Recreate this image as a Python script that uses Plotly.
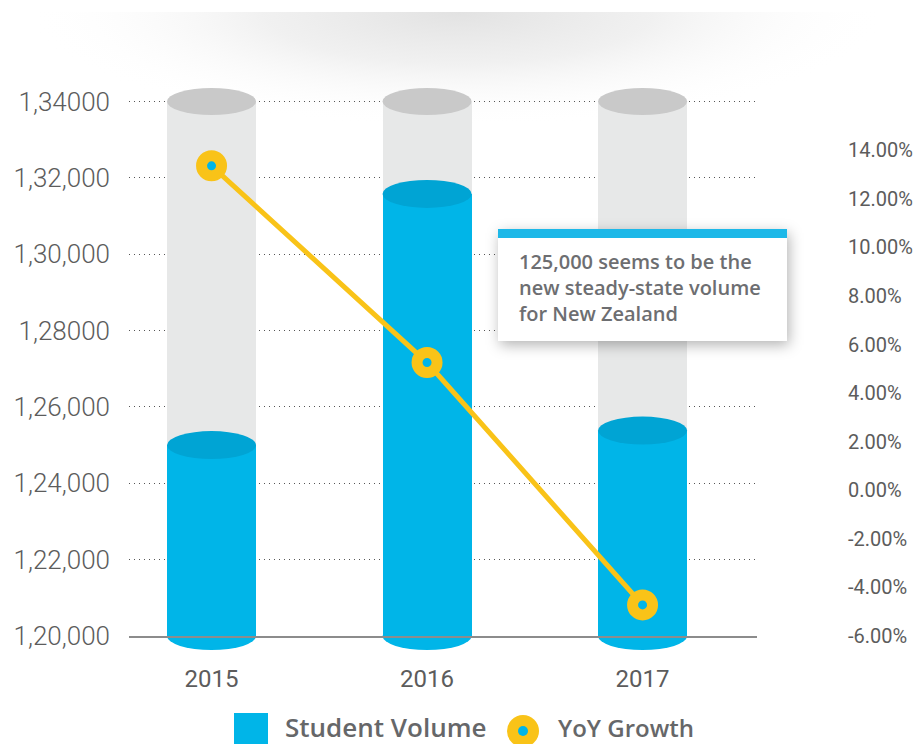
import base64
import plotly.graph_objects as go

# ---- data ----
years = ["2015", "2016", "2017"]
student_volume = [125000, 131580, 125380]
yoy_growth = [13.36, 5.26, -4.72]

vol_ticks = [120000, 122000, 124000, 126000, 128000, 130000, 132000, 134000]
vol_tick_labels = ["1,20,000", "1,22,000", "1,24,000", "1,26,000",
                   "1,28000", "1,30,000", "1,32,000", "1,34000"]
growth_ticks = [-6, -4, -2, 0, 2, 4, 6, 8, 10, 12, 14]
growth_tick_labels = [f"{v:.2f}%" for v in growth_ticks]

vol_base = 120000
vol_max = 134000
note = "125,000 seems to be the<br>new steady-state volume<br>for New Zealand"

# ---- styling ----
BLUE = "#00B5E8"
BLUE_TOP = "#00A4D4"
TRACK = "#E7E8E8"
TRACK_TOP = "#C9C9C9"
YELLOW = "#F9C318"
TEXT = "#5C5C5C"
NOTE_TEXT = "#6D6E71"
SANS = "Open Sans"

W, H = 917, 744
L, R, T, B = 129, 757, 100, 636
BAR_W = 0.413
# small headroom so the top gridline is kept inside the plot area
HEADROOM = 40


def px(x):
    return (x - L) / (R - L)


def py(y):
    return (B - y) / (B - T)


xs = list(range(len(years)))

fig = go.Figure()

# background "track" cylinders
fig.add_trace(go.Bar(
    x=xs, y=[vol_max - vol_base] * len(xs), base=vol_base, width=BAR_W,
    marker=dict(color=TRACK, line=dict(width=0)), showlegend=False,
    hoverinfo="skip",
))
# student volume cylinders
fig.add_trace(go.Bar(
    x=xs, y=[v - vol_base for v in student_volume], base=vol_base, width=BAR_W,
    marker=dict(color=BLUE, line=dict(width=0)), name="Student Volume",
    showlegend=False,
    customdata=student_volume, hovertemplate="%{customdata:,}<extra></extra>",
))
# YoY growth line on the right axis
fig.add_trace(go.Scatter(
    x=xs, y=yoy_growth, yaxis="y2", mode="lines+markers", name="YoY Growth",
    line=dict(color=YELLOW, width=5),
    marker=dict(size=20, color=BLUE, line=dict(color=YELLOW, width=11)),
    showlegend=False, cliponaxis=False,
))

shapes = []
for i, v in enumerate(student_volume):
    x0, x1 = i - BAR_W / 2, i + BAR_W / 2
    # track top cap (anchored just below the top edge, at vol_max)
    shapes.append(dict(type="circle", xref="x", yref="paper", x0=x0, x1=x1,
                       ysizemode="pixel", yanchor=1, y0=-15, y1=12,
                       fillcolor=TRACK_TOP, line=dict(width=0), layer="above"))
    # volume bottom cap
    shapes.append(dict(type="circle", xref="x", yref="paper", x0=x0, x1=x1,
                       ysizemode="pixel", yanchor=0, y0=-14, y1=14,
                       fillcolor=BLUE, line=dict(width=0), layer="below"))
    # volume top cap
    shapes.append(dict(type="circle", xref="x", yref="y", x0=x0, x1=x1,
                       ysizemode="pixel", yanchor=v, y0=-14, y1=14,
                       fillcolor=BLUE_TOP, line=dict(width=0), layer="above"))

# callout box
shapes.append(dict(type="rect", xref="paper", yref="paper",
                   x0=px(498), x1=px(787), y0=py(341), y1=py(229),
                   fillcolor="white", line=dict(width=0), layer="above"))
shapes.append(dict(type="rect", xref="paper", yref="paper",
                   x0=px(498), x1=px(787), y0=py(238), y1=py(229),
                   fillcolor="#1DB8E8", line=dict(width=0), layer="above"))

# legend swatches
shapes.append(dict(type="rect", xref="paper", yref="paper",
                   x0=px(234), x1=px(268), y0=py(750), y1=py(713),
                   fillcolor=BLUE, line=dict(width=0), layer="above"))
shapes.append(dict(type="circle", xref="paper", yref="paper",
                   x0=px(507), x1=px(539), y0=py(747), y1=py(715),
                   fillcolor=YELLOW, line=dict(width=0), layer="above"))
shapes.append(dict(type="circle", xref="paper", yref="paper",
                   x0=px(518), x1=px(528), y0=py(736), y1=py(726),
                   fillcolor=BLUE, line=dict(width=0), layer="above"))

# soft shading along the top of the card
top_svg = (
    '<svg xmlns="http://www.w3.org/2000/svg" width="860" height="230">'
    '<defs><radialGradient id="g" cx="0.5" cy="0" r="0.5">'
    '<stop offset="0" stop-color="#e2e2e2" stop-opacity="1"/>'
    '<stop offset="0.45" stop-color="#eeeeee" stop-opacity="0.85"/>'
    '<stop offset="1" stop-color="#ffffff" stop-opacity="0"/>'
    '</radialGradient></defs>'
    '<rect x="0" y="0" width="860" height="230" fill="url(#g)"/></svg>'
)
# drop shadow of the callout
note_svg = (
    '<svg xmlns="http://www.w3.org/2000/svg" width="329" height="152">'
    '<defs><filter id="f" x="-20%" y="-20%" width="140%" height="140%">'
    '<feGaussianBlur stdDeviation="7"/></filter></defs>'
    '<rect x="22" y="23" width="289" height="112" fill="#000" '
    'fill-opacity="0.3" filter="url(#f)"/></svg>'
)


def svg_uri(s):
    return "data:image/svg+xml;base64," + base64.b64encode(s.encode()).decode()


images = [
    dict(source=svg_uri(top_svg), xref="paper", yref="paper",
         x=px(28), y=py(12), sizex=860 / (R - L), sizey=230 / (B - T),
         xanchor="left", yanchor="top", sizing="stretch", layer="below"),
    dict(source=svg_uri(note_svg), xref="paper", yref="paper",
         x=px(498 - 20), y=py(229 - 19), sizex=329 / (R - L), sizey=152 / (B - T),
         xanchor="left", yanchor="top", sizing="stretch", layer="above"),
]

annotations = [
    dict(text=note, xref="paper", yref="paper", x=px(517), y=py(287),
         xanchor="left", yanchor="middle", align="left", showarrow=False,
         font=dict(family=SANS, size=20, color=NOTE_TEXT, weight=600)),
    dict(text="Student Volume", xref="paper", yref="paper", x=px(284), y=py(727),
         xanchor="left", yanchor="middle", showarrow=False, borderpad=0,
         font=dict(family=SANS, size=26, color="#666769", weight=600)),
    dict(text="YoY Growth", xref="paper", yref="paper", x=px(557), y=py(727),
         xanchor="left", yanchor="middle", showarrow=False, borderpad=0,
         font=dict(family=SANS, size=24, color="#666769", weight=600)),
]

fig.update_layout(
    width=W, height=H,
    margin=dict(l=L, r=W - R, t=T, b=H - B, autoexpand=False),
    paper_bgcolor="white", plot_bgcolor="rgba(0,0,0,0)",
    barmode="overlay", bargap=0,
    shapes=shapes, images=images, annotations=annotations,
    xaxis=dict(
        range=[-0.383, 2.531], tickvals=xs, ticktext=years, automargin=False,
        showgrid=False, zeroline=False, showline=True,
        linecolor="#8C8C8C", linewidth=1.5, layer="below traces",
        ticks="", ticklabelstandoff=20,
        tickfont=dict(family="Roboto", size=24, color=TEXT),
    ),
    yaxis=dict(
        range=[vol_base, vol_max + HEADROOM], tickvals=vol_ticks,
        ticktext=vol_tick_labels, automargin=False,
        showgrid=True, gridcolor="#555555", griddash="1px,4px", gridwidth=1.2,
        zeroline=False, showline=False, ticks="", ticklabelstandoff=18,
        tickfont=dict(family="Roboto", size=26, color=TEXT, weight=300),
    ),
    yaxis2=dict(
        overlaying="y", side="right", range=[-6, 16.07], automargin=False,
        tickvals=growth_ticks, ticktext=growth_tick_labels,
        showgrid=False, zeroline=False, showline=False, ticks="",
        ticklabelstandoff=90,
        tickfont=dict(family="Roboto", size=20, color=TEXT),
    ),
)

fig.write_html("out.html")
